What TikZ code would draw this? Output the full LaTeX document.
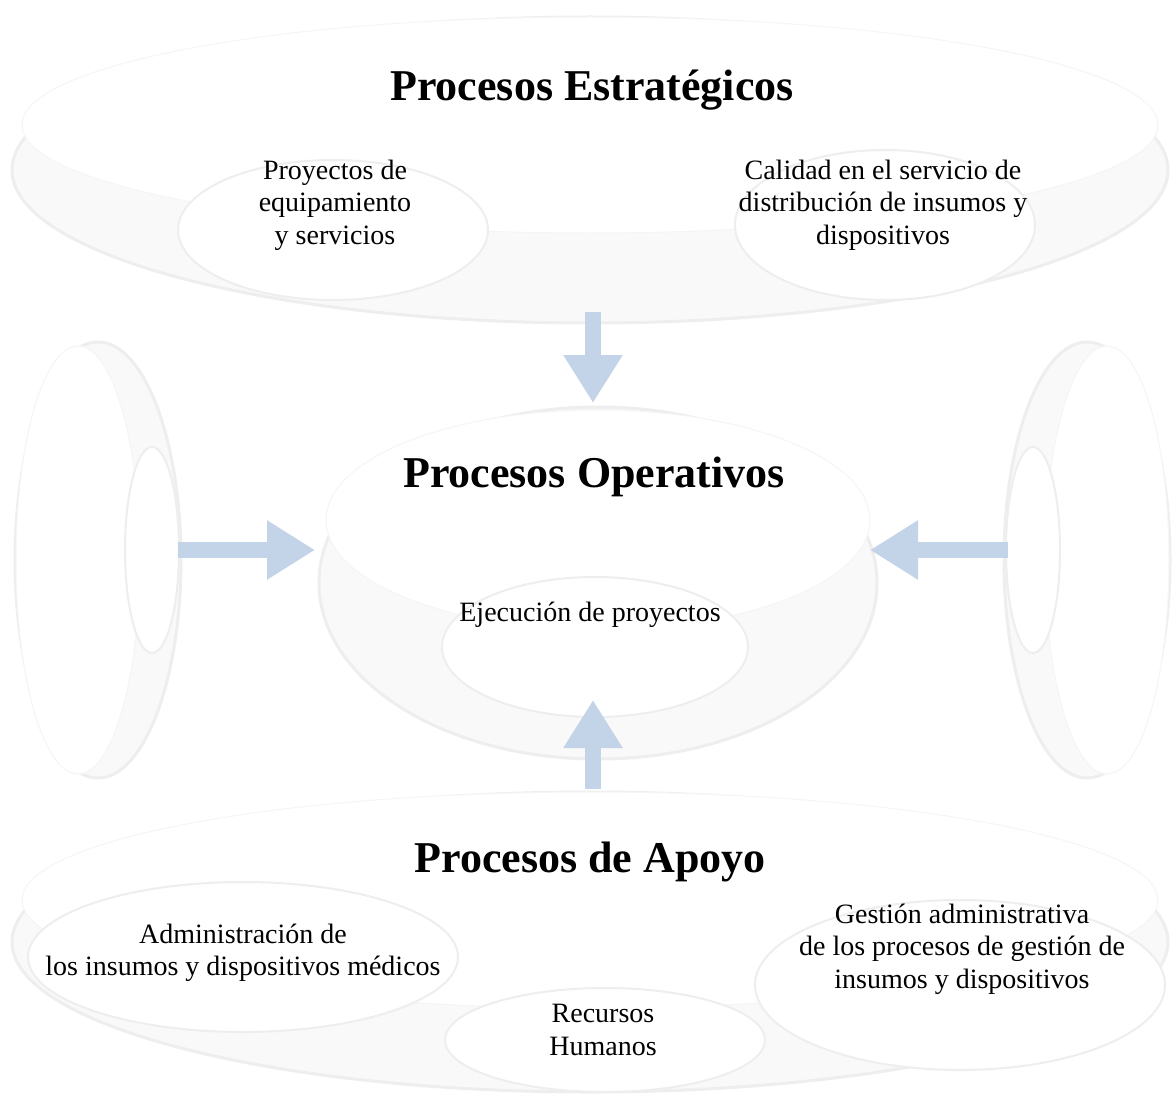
\documentclass[tikz,border=0pt]{standalone}
\usepackage{fontspec}
\setmainfont{Liberation Serif}
\usetikzlibrary{arrows.meta}
\definecolor{azul}{RGB}{195,211,232}
\definecolor{borde}{RGB}{238,238,238}
\definecolor{sombra}{RGB}{249,249,249}

\begin{document}
\begin{tikzpicture}[x=1pt,y=-1pt]
	\tikzstyle{titulo}=[font=\fontsize{44}{48}\selectfont\bfseries];
	\tikzstyle{texto}=[align=center,font=\fontsize{28}{32.5}\selectfont];
	\tikzstyle{anillo}=[draw=borde,line width=3pt,fill=sombra];
	\tikzstyle{cara}=[draw=borde!60,line width=1pt,fill=white];
	\tikzstyle{hueco}=[draw=borde,line width=2pt,fill=white];
	\tikzstyle{flecha}=[azul,line width=16pt,-{Triangle[length=48pt,width=56pt]}];
%<--------------------------------------------------------------------------->%

	\useasboundingbox[fill=white] (0,0) rectangle (1175,1097);
	%% Rings
	\draw[anillo] (590,170) ellipse [x radius=578,y radius=153];
	\draw[cara]   (590,125) ellipse [x radius=568,y radius=108];
	\draw[hueco]  (333,230) ellipse [x radius=155,y radius=70];
	\draw[hueco]  (885,225) ellipse [x radius=150,y radius=75];

	\draw[anillo] (598,583) ellipse [x radius=279,y radius=176];
	\draw[cara]   (598,520) ellipse [x radius=272,y radius=110];
	\draw[hueco]  (595,647) ellipse [x radius=153,y radius=70];

	\draw[anillo] (98,560) ellipse [x radius=83,y radius=218];
	\draw[cara]   (78,560) ellipse [x radius=62,y radius=214];
	\draw[hueco]  (152,550) ellipse [x radius=27,y radius=103];

	\draw[anillo] (1087,560) ellipse [x radius=83,y radius=218];
	\draw[cara]   (1107,560) ellipse [x radius=62,y radius=214];
	\draw[hueco]  (1033,550) ellipse [x radius=27,y radius=103];

	\draw[anillo] (590,942) ellipse [x radius=578,y radius=150];
	\draw[cara]   (590,900) ellipse [x radius=568,y radius=108];
	\draw[hueco]  (243,957) ellipse [x radius=215,y radius=75];
	\draw[hueco]  (960,985) ellipse [x radius=205,y radius=85];
	\draw[hueco]  (605,1040) ellipse [x radius=160,y radius=52];

	%% Arrows
	\coordinate (sup1) at (593,312);
	\coordinate (sup2) at (593,403);
	\coordinate (inf1) at (593,789);
	\coordinate (inf2) at (593,700);
	\coordinate (izq1) at (178,550);
	\coordinate (izq2) at (315,550);
	\coordinate (der1) at (1008,550);
	\coordinate (der2) at (870,550);
	\draw[flecha] (sup1) -- (sup2);
	\draw[flecha] (inf1) -- (inf2);
	\draw[flecha] (izq1) -- (izq2);
	\draw[flecha] (der1) -- (der2);

	%% Texts
	\node[titulo] (estrat) at (592,90) {Procesos Estratégicos};
	\node[texto] (proyec) at (335,205) {Proyectos de\\equipamiento\\y servicios};
	\node[texto] (calid) at (883,205) {Calidad en el servicio de\\distribución de insumos y\\dispositivos};
	\node[titulo] (operat) at (594,477) {Procesos Operativos};
	\node[texto] (ejecu) at (590,615) {Ejecución de proyectos};
	\node[titulo] (apoyo) at (590,862) {Procesos de Apoyo};
	\node[texto] (admin) at (243,953) {Administración de\\los insumos y dispositivos médicos};
	\node[texto] (gestion) at (962,949) {Gestión administrativa\\de los procesos de gestión de\\insumos y dispositivos};
	\node[texto] (recur) at (603,1030) {Recursos\\Humanos};
\end{tikzpicture}
\end{document}
